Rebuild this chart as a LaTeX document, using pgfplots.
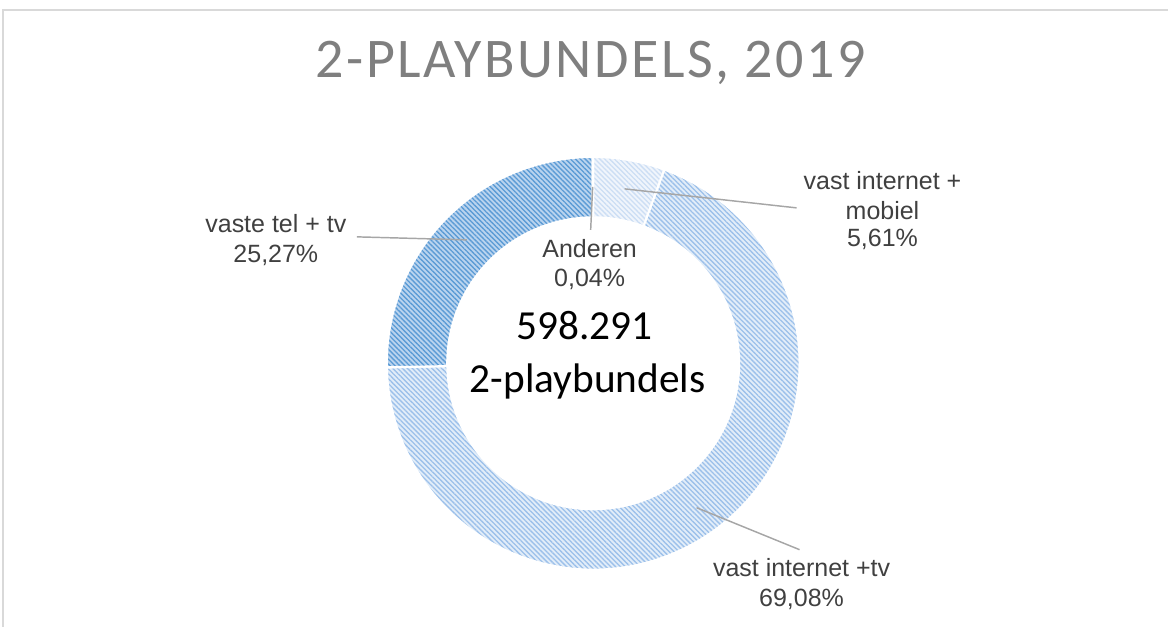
\documentclass[border=0pt]{standalone}
\usepackage{pgfplots}
\pgfplotsset{compat=1.18}
\usepackage{fontspec}
\setmainfont{Liberation Sans}
\newfontfamily\calibri{Carlito}
\newfontfamily\titlefont[LetterSpace=4.5]{Carlito}
\usetikzlibrary{patterns.meta}

\definecolor{lab}{HTML}{404040}
\definecolor{ttl}{HTML}{7F7F7F}
\definecolor{lead}{HTML}{A6A6A6}
\definecolor{frm}{HTML}{D9D9D9}
\definecolor{telbg}{HTML}{BAD4EF}
\definecolor{telln}{HTML}{5B9BD5}
\definecolor{ittbg}{HTML}{E2EDF9}
\definecolor{ittln}{HTML}{9CC0EA}
\definecolor{mobbg}{HTML}{F0F5FC}
\definecolor{mobln}{HTML}{CCDEF4}
\definecolor{andbg}{HTML}{CFE0F3}
\definecolor{andln}{HTML}{7FAADD}

% shares in percent (clockwise from the top)
\def\vMob{5.61}
\def\vItv{69.08}
\def\vTel{25.27}
\def\vAnd{0.04}

\pgfmathsetmacro\aA{90}
\pgfmathsetmacro\aB{\aA-3.6*\vMob}
\pgfmathsetmacro\aC{\aB-3.6*\vItv}
\pgfmathsetmacro\aD{\aC-3.6*\vTel}
\pgfmathsetmacro\aE{\aD-3.6*\vAnd}

\def\cx{593.5}
\def\cy{263.5}
\def\Ro{154.875pt}
\def\Ri{109.5pt}

\newcommand\sector[4]{%
  \path[preaction={fill=#3},
        pattern={Lines[angle=-45,distance=2.6pt,line width=1pt]},
        pattern color=#4, draw=white, line width=1.6pt]
    (axis cs:\cx,\cy) ++(#1:\Ro) arc[start angle=#1,end angle=#2,radius=\Ro]
    -- ([shift={(#2:\Ri)}]axis cs:\cx,\cy) arc[start angle=#2,end angle=#1,radius=\Ri]
    -- cycle;}

\begin{document}
\begin{tikzpicture}
\begin{axis}[x=0.75pt,y=0.75pt,xmin=0,xmax=1169,ymin=0,ymax=627,
  hide axis,clip=false,scale only axis]
  \addplot[draw=none] coordinates {(0,0) (1169,627)};
  % frame
  \draw[frm,line width=1pt] (axis cs:3,0) -- (axis cs:3,617) -- (axis cs:1169,617);
  % title
  \node[anchor=base,text=ttl,font=\titlefont\fontsize{42}{50}\selectfont] at (axis cs:591,549) {2-PLAYBUNDELS, 2019};
  % donut
  \sector{\aA}{\aB}{mobbg}{mobln}
  \sector{\aB}{\aC}{ittbg}{ittln}
  \sector{\aC}{\aD}{telbg}{telln}
  \sector{\aD}{\aE}{andbg}{andln}
  % leader lines
  \draw[lead,line width=1.1pt] (axis cs:357,390) -- (axis cs:467,387);
  \draw[lead,line width=1.1pt] (axis cs:625,438) -- (axis cs:797,419);
  \draw[lead,line width=1.1pt] (axis cs:697,119) -- (axis cs:800,77);
  \draw[lead,line width=1.1pt] (axis cs:593,440) -- (axis cs:591,397);
  % labels
  \tikzset{lbl/.style={anchor=base,text=lab,font=\fontsize{18.75}{22.5}\selectfont,inner sep=0pt}}
  \node[lbl] at (axis cs:276,394) {vaste tel + tv};
  \node[lbl] at (axis cs:276,364) {25,27\%};
  \node[lbl] at (axis cs:883,437) {vast internet +};
  \node[lbl] at (axis cs:883,407) {mobiel};
  \node[lbl] at (axis cs:883,380) {5,61\%};
  \node[lbl] at (axis cs:802,50) {vast internet +tv};
  \node[lbl] at (axis cs:802,20) {69,08\%};
  \node[lbl] at (axis cs:590,369) {Anderen};
  \node[lbl] at (axis cs:590,340) {0,04\%};
  % centre text
  \node[anchor=base,inner sep=0pt,font=\calibri\fontsize{31}{37}\selectfont] at (axis cs:585,287) {598.291};
  \node[anchor=base,inner sep=0pt,font=\calibri\fontsize{31}{37}\selectfont] at (axis cs:588,234) {2-playbundels};
\end{axis}
\end{tikzpicture}
\end{document}
